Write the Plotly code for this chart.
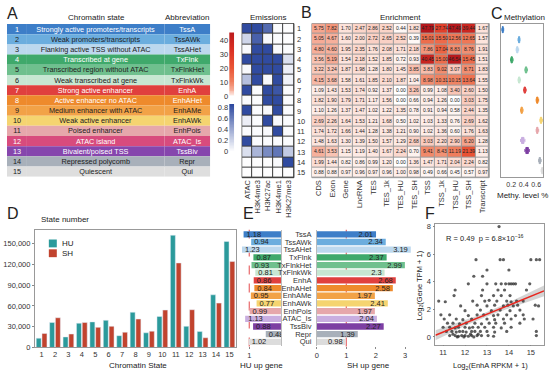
import numpy as np
import plotly.graph_objects as go

W, H = 550, 377
def X(px): return px / W
def Y(py): return 1 - py / H

FONT = "Liberation Sans, Arial, sans-serif"

# ---------------- data ----------------
state_ids = [str(i) for i in range(1, 16)]
state_names = ["Strongly active promoters/transcripts", "Weak promoters/transcripts",
               "Flanking active TSS without ATAC", "Transcribed at gene",
               "Transcribed region without ATAC", "Weak transcribed at gene",
               "Strong active enhancer", "Active enhancer no ATAC", "Medium enhancer with ATAC",
               "Weak active enhancer", "Poised enhancer", "ATAC island",
               "Bivalent/poised TSS", "Repressed polycomb", "Quiescent"]
state_abbr = ["TssA", "TssAWk", "TssAHet", "TxFlnk", "TxFlnkHet", "TxFlnkWk", "EnhA", "EnhAHet",
              "EnhAMe", "EnhAWk", "EnhPois", "ATAC_Is", "TssBiv", "Repr", "Qui"]
table_colors = ["#3d7ec8", "#6badde", "#bcd8ee", "#3fa96b", "#6fc08e", "#c7e7d2", "#e0403e",
                "#ee8a2c", "#f2a247", "#f5d470", "#e6a7ab", "#d84b7d", "#8646ad", "#a8b0ba", "#dedede"]
table_text_colors = ["white", "#222", "#222", "white", "#222", "#222", "white", "white",
                     "#222", "#222", "#222", "white", "white", "#222", "#222"]
state_colors = ["#3d7ec8", "#6badde", "#bcd8ee", "#3fa96b", "#6fc08e", "#c7e7d2", "#e0403e",
                "#ee8a2c", "#f2a247", "#f5d470", "#e6a7ab", "#c9aee0", "#7d3fa3", "#a8b0ba", "#dcdcdc"]

emission_marks = ["ATAC", "H3K4me3", "H3K27ac", "H3K4me1", "H3K27me3"]
emissions = [
    [0.85, 0.85, 0.70, 0.02, 0.01],
    [0.20, 0.75, 0.03, 0.02, 0.01],
    [0.03, 0.85, 0.85, 0.03, 0.02],
    [0.85, 0.85, 0.85, 0.85, 0.15],
    [0.03, 0.85, 0.85, 0.85, 0.08],
    [0.30, 0.85, 0.03, 0.85, 0.06],
    [0.85, 0.02, 0.85, 0.80, 0.02],
    [0.02, 0.02, 0.85, 0.85, 0.02],
    [0.85, 0.02, 0.03, 0.85, 0.02],
    [0.08, 0.02, 0.85, 0.03, 0.02],
    [0.02, 0.02, 0.03, 0.85, 0.02],
    [0.85, 0.02, 0.02, 0.02, 0.02],
    [0.15, 0.35, 0.55, 0.65, 0.25],
    [0.01, 0.01, 0.01, 0.03, 0.85],
    [0.01, 0.01, 0.01, 0.01, 0.01],
]

enrich_features = ["CDS", "Exon", "Gene", "LncRNA", "TES", "TES_1k", "TES_HU", "TES_SH",
                   "TSS", "TSS_1k", "TSS_HU", "TSS_SH", "Transcript"]
enrichment = [
    [5.75, 7.82, 1.70, 2.47, 2.86, 2.52, 0.44, 1.82, 47.79, 27.74, 47.49, 39.44, 1.67],
    [5.05, 4.67, 1.60, 2.00, 2.72, 2.65, 2.52, 0.39, 15.01, 15.50, 12.56, 12.65, 1.57],
    [4.80, 4.60, 1.95, 2.35, 1.76, 2.08, 1.71, 2.18, 7.86, 17.04, 8.83, 8.76, 1.91],
    [3.56, 5.19, 1.54, 2.18, 1.52, 1.85, 0.72, 0.93, 40.45, 15.00, 46.54, 15.45, 1.51],
    [3.22, 3.24, 1.87, 1.98, 1.28, 1.80, 1.45, 3.85, 3.83, 9.02, 3.07, 8.71, 1.83],
    [4.15, 3.68, 1.58, 1.61, 1.85, 2.10, 1.87, 1.04, 8.98, 10.31, 10.15, 13.64, 1.55],
    [1.09, 1.43, 1.53, 1.74, 0.92, 1.37, 0.00, 3.26, 0.99, 1.08, 3.40, 2.60, 1.50],
    [1.82, 1.90, 1.79, 1.71, 1.17, 1.56, 0.00, 0.66, 0.94, 1.26, 0.00, 3.03, 1.75],
    [1.10, 1.26, 1.37, 1.47, 1.02, 1.22, 1.35, 0.78, 0.91, 0.94, 0.58, 2.44, 1.35],
    [2.69, 2.26, 1.64, 1.53, 1.21, 1.68, 0.50, 1.02, 1.03, 1.33, 0.76, 2.69, 1.62],
    [1.74, 1.72, 1.66, 1.44, 1.28, 1.38, 1.21, 0.90, 1.02, 1.36, 0.60, 1.76, 1.63],
    [1.48, 1.63, 1.30, 1.39, 1.50, 1.57, 1.29, 2.68, 3.03, 2.20, 2.90, 6.20, 1.28],
    [4.61, 3.53, 1.15, 1.19, 1.40, 1.67, 2.24, 0.70, 9.41, 8.43, 11.19, 21.39, 1.13],
    [1.99, 1.44, 0.82, 0.86, 0.99, 1.20, 0.00, 1.36, 1.47, 1.71, 2.04, 2.24, 0.82],
    [0.88, 0.88, 0.97, 0.96, 0.97, 0.96, 1.00, 0.98, 0.49, 0.66, 0.45, 0.57, 0.97],
]

methylation = [
    [0.05, 0.06, 0.065, 0.07, 0.08],
    [0.31, 0.32, 0.33, 0.335, 0.34],
    [0.28, 0.29, 0.30, 0.305, 0.32],
    [0.19, 0.20, 0.21, 0.215, 0.23],
    [0.42, 0.43, 0.44, 0.445, 0.46],
    [0.31, 0.32, 0.33, 0.335, 0.35],
    [0.40, 0.41, 0.42, 0.425, 0.44],
    [0.60, 0.61, 0.62, 0.625, 0.64],
    [0.35, 0.36, 0.37, 0.375, 0.39],
    [0.66, 0.67, 0.68, 0.685, 0.70],
    [0.60, 0.61, 0.62, 0.625, 0.64],
    [0.35, 0.37, 0.38, 0.40, 0.42],
    [0.42, 0.44, 0.45, 0.47, 0.49],
    [0.64, 0.65, 0.66, 0.665, 0.68],
    [0.68, 0.69, 0.70, 0.705, 0.72],
]

hu_counts = [13400, 36000, 15200, 35000, 36900, 39200, 17000, 50800, 21200, 44800,
             162000, 30500, 23000, 76000, 153000]
sh_counts = [20300, 42900, 19400, 36000, 29000, 30500, 22000, 41000, 23500, 54000,
             122000, 54500, 14000, 64000, 124000]

hu_up = [1.18, 0.94, 1.23, 0.87, 0.93, 0.81, 0.86, 0.84, 0.95, 0.77, 0.99, 1.13, 0.88, 0.48, 1.02]
sh_up = [2.01, 2.34, 3.19, 2.37, 2.99, 2.3, 2.68, 2.58, 1.97, 2.41, 1.97, 2.04, 2.27, 1.39, 0.98]

f_enha = [13.55,
          12.5, 13.6, 13.75, 15.0, 15.25, 15.4,
          13.0, 14.0,
          12.4, 12.8,
          12.15, 13.0, 13.4, 13.65, 13.85, 14.0, 14.1, 14.2, 14.3, 14.95,
          11.55, 12.8, 13.5, 13.8, 14.8,
          11.5, 12.75, 13.3, 13.65, 14.05,
          10.8, 11.1, 12.35, 12.9, 13.1, 13.45, 13.9, 14.1, 14.35, 14.65,
          11.8, 12.55, 13.0, 13.35, 13.75, 13.95, 14.2, 14.4, 15.2, 15.35,
          12.0, 12.7, 13.2, 13.6, 14.05, 14.5,
          10.9, 11.3, 12.15, 12.55, 12.85, 13.3, 13.5, 13.9, 14.3, 14.65,
          11.05, 11.6, 11.9, 12.3, 13.0, 13.35, 13.75, 14.1, 14.7, 15.1,
          11.2, 11.45, 11.75, 12.05, 12.45, 12.75, 13.1, 13.4, 13.8, 14.5,
          11.0, 11.3, 11.55, 11.7, 12.0, 12.2, 12.35, 12.6, 12.9, 13.3, 13.65, 14.1,
          11.15, 11.4, 11.6, 11.75, 11.9, 12.05, 12.3, 12.45, 12.7, 13.0, 13.35, 13.9, 15.25,
          11.3, 11.55, 11.7, 11.85, 12.0, 12.15, 12.3, 12.55, 12.75, 13.05, 13.3, 15.25,
          11.65, 11.95, 12.4, 11.45, 12.25, 12.6]
f_gene = [8.0,
          5.6, 5.6, 5.6, 5.6, 5.6, 5.6,
          4.85, 4.85,
          4.4, 4.4,
          3.85, 3.85, 3.85, 3.85, 3.85, 3.85, 3.85, 3.85, 3.85, 3.85,
          3.4, 3.4, 3.4, 3.4, 3.4,
          3.0, 3.0, 3.0, 3.0, 3.0,
          2.6, 2.55, 2.6, 2.6, 2.65, 2.6, 2.6, 2.55, 2.6, 2.6,
          2.25, 2.3, 2.25, 2.3, 2.25, 2.3, 2.25, 2.3, 2.3, 2.25,
          1.9, 1.95, 1.9, 1.95, 1.9, 1.95,
          1.6, 1.6, 1.55, 1.6, 1.6, 1.55, 1.6, 1.6, 1.55, 1.6,
          1.3, 1.3, 1.25, 1.3, 1.3, 1.25, 1.3, 1.3, 1.3, 1.3,
          1.0, 1.0, 0.95, 1.0, 1.0, 0.95, 1.0, 1.0, 1.0, 1.0,
          0.7, 0.7, 0.65, 0.7, 0.7, 0.65, 0.7, 0.7, 0.7, 0.7, 0.65, 0.7,
          0.4, 0.4, 0.35, 0.4, 0.4, 0.35, 0.4, 0.4, 0.4, 0.4, 0.35, 0.4, 0.4,
          0.1, 0.1, 0.05, 0.1, 0.1, 0.05, 0.1, 0.1, 0.1, 0.1, 0.05, 0.1,
          0.0, 0.0, 0.0, 0.2, 0.2, 0.2]
fit_slope = 0.65
fit_intercept = -6.8
fit_r_text = "R = 0.49  p = 6.8×10<sup>−16</sup>"

red_scale = [[0, "#ffffff"], [0.03, "#fde6df"], [0.1, "#f6ad98"], [0.22, "#f0805f"],
             [0.42, "#ea5636"], [0.68, "#dc3224"], [1, "#b5161b"]]
blue_scale = [[0, "#ffffff"], [1, "#2b479e"]]

fig = go.Figure()

# ---------------- A: table as stacked bars ----------------
col_w = [20, 138, 46]
col_text = [state_ids, state_names, state_abbr]
base = 0
for w, txt in zip(col_w, col_text):
    fig.add_trace(go.Bar(
        y=state_ids, x=[w] * len(state_ids), base=base, orientation="h", width=1.0,
        marker=dict(color=table_colors, line=dict(width=0)),
        text=txt, textposition="inside", insidetextanchor="middle", constraintext="none",
        textangle=0,
        textfont=dict(size=7.3, color=table_text_colors, family=FONT),
        xaxis="x10", yaxis="y10", showlegend=False, hoverinfo="skip"))
    base += w

# ---------------- emissions heatmap ----------------
fig.add_trace(go.Heatmap(z=emissions, x=emission_marks, y=state_ids, colorscale=blue_scale,
                         zmin=0, zmax=0.87, showscale=False, xgap=1, ygap=1,
                         xaxis="x", yaxis="y", hoverinfo="skip"))

# ---------------- B: enrichment heatmap ----------------
enrich_text = [[f"{v:.2f}" for v in row] for row in enrichment]
fig.add_trace(go.Heatmap(z=enrichment, x=enrich_features, y=state_ids, colorscale=red_scale,
                         zmin=0, zmax=48, showscale=False, xgap=1, ygap=1,
                         text=enrich_text, texttemplate="%{text}",
                         textfont=dict(size=5, color="#222", family=FONT),
                         xaxis="x2", yaxis="y2", hoverinfo="skip"))

# colour bars (gradients on their own axes)
red_grad = np.linspace(0, 45.6, 80)
fig.add_trace(go.Heatmap(z=[[v] for v in red_grad], y=red_grad, x=[0], colorscale=red_scale,
                         zmin=0, zmax=48, showscale=False, xaxis="x8", yaxis="y8", hoverinfo="skip"))
blue_grad = np.linspace(0, 0.87, 80)
fig.add_trace(go.Heatmap(z=[[v] for v in blue_grad], y=blue_grad, x=[0], colorscale=blue_scale,
                         zmin=0, zmax=0.87, showscale=False, xaxis="x9", yaxis="y9", hoverinfo="skip"))

# ---------------- C: methylation ----------------
for sid, vals, col in zip(state_ids, methylation, state_colors):
    fig.add_trace(go.Box(x=vals, y=[sid] * len(vals), orientation="h", width=0.6,
                         line=dict(color=col, width=1), fillcolor=col,
                         boxpoints=False,
                         xaxis="x3", yaxis="y3", showlegend=False, hoverinfo="skip"))

# ---------------- D: state numbers ----------------
hu_color, sh_color = "#2b9a9b", "#c1432e"
fig.add_trace(go.Bar(x=state_ids, y=hu_counts, name="HU", marker_color=hu_color,
                     offset=-0.4, width=0.37, xaxis="x4", yaxis="y4", showlegend=False))
fig.add_trace(go.Bar(x=state_ids, y=sh_counts, name="SH", marker_color=sh_color,
                     offset=0.03, width=0.37, xaxis="x4", yaxis="y4", showlegend=False))

# ---------------- E: up genes ----------------
fig.add_trace(go.Bar(y=state_abbr, x=hu_up, orientation="h", width=0.82,
                     marker=dict(color=state_colors, line=dict(width=0)),
                     text=[f"{v:g}" for v in hu_up], textposition="inside",
                     insidetextanchor="end", constraintext="none", textangle=0,
                     textfont=dict(size=7.5, color="#222", family=FONT),
                     xaxis="x5", yaxis="y5", showlegend=False, hoverinfo="skip"))
fig.add_trace(go.Bar(y=state_abbr, x=sh_up, orientation="h", width=0.82,
                     marker=dict(color=state_colors, line=dict(width=0)),
                     text=[f"{v:g}" for v in sh_up], textposition="inside",
                     insidetextanchor="end", constraintext="none", textangle=0,
                     textfont=dict(size=7.5, color="#222", family=FONT),
                     xaxis="x6", yaxis="y6", showlegend=False, hoverinfo="skip"))

# ---------------- F: scatter + fit ----------------
fx = np.array(f_enha, dtype=float)
fy = np.array(f_gene, dtype=float)
xs = np.linspace(10.65, 15.6, 60)
ys = fit_slope * xs + fit_intercept
resid = fy - (fit_slope * fx + fit_intercept)
s = np.sqrt(np.sum(resid ** 2) / (len(fx) - 2))
sxx = np.sum((fx - fx.mean()) ** 2)
hw = 1.2 * s * np.sqrt(1 / len(fx) + (xs - fx.mean()) ** 2 / sxx)
fig.add_trace(go.Scatter(x=np.concatenate([xs, xs[::-1]]),
                         y=np.concatenate([ys + hw, (ys - hw)[::-1]]),
                         fill="toself", fillcolor="rgba(170,170,170,0.5)",
                         line=dict(width=0), xaxis="x7", yaxis="y7",
                         showlegend=False, hoverinfo="skip"))
fig.add_trace(go.Scatter(x=fx, y=fy, mode="markers",
                         marker=dict(size=3.2, color="rgba(40,40,40,0.75)"),
                         xaxis="x7", yaxis="y7", showlegend=False, hoverinfo="skip"))
fig.add_trace(go.Scatter(x=xs, y=ys, mode="lines", line=dict(color="#e8261e", width=1.5),
                         xaxis="x7", yaxis="y7", showlegend=False, hoverinfo="skip"))

# ---------------- layout ----------------
tick_font = dict(size=7.5, color="#333", family=FONT)
hidden = dict(visible=False)
BOT = 352  # bottom of lower panels
layout = dict(
    width=W, height=H, margin=dict(l=0, r=0, t=0, b=0),
    paper_bgcolor="white", plot_bgcolor="white",
    font=dict(family=FONT, size=8, color="#222"),
    barmode="overlay",
    showlegend=False,
    # emissions
    xaxis=dict(domain=[X(241), X(293)], tickangle=-90, tickfont=tick_font, ticks="",
               showgrid=False, zeroline=False, side="bottom", anchor="y"),
    yaxis=dict(domain=[Y(179), Y(22)], autorange="reversed", side="right", tickfont=tick_font,
               ticks="", showgrid=False, zeroline=False, anchor="x", ticklabelstandoff=2),
    # enrichment
    xaxis2=dict(domain=[X(311), X(489)], tickangle=-90, tickfont=tick_font, ticks="",
                showgrid=False, zeroline=False, anchor="y2"),
    yaxis2=dict(domain=[Y(179), Y(22)], autorange="reversed", showticklabels=False, ticks="",
                showgrid=False, zeroline=False, anchor="x2"),
    # methylation
    xaxis3=dict(domain=[X(501), X(543)], range=[0.04, 0.71], tickvals=[0.2, 0.4, 0.6],
                tickfont=dict(size=7, color="#333", family=FONT), ticks="",
                ticklabelstandoff=1,
                showline=True, mirror=True, linecolor="#999", linewidth=0.8,
                showgrid=False, zeroline=False, anchor="y3"),
    yaxis3=dict(domain=[Y(178), Y(22)], categoryorder="array", categoryarray=state_ids,
                range=[14.6, -0.6], showticklabels=False, ticks="", showline=True, mirror=True,
                linecolor="#999", linewidth=0.8, showgrid=False, zeroline=False, anchor="x3"),
    # D
    xaxis4=dict(domain=[X(33), X(235)], range=[-0.5, 14.5], tickfont=tick_font, ticks="",
                showline=True, mirror=True, linecolor="#999", linewidth=0.8,
                showgrid=False, zeroline=False, anchor="y4"),
    yaxis4=dict(domain=[Y(BOT), Y(232)], range=[0, 170000],
                tickvals=[0, 30000, 60000, 90000, 120000, 150000], tickformat=",",
                tickfont=tick_font, ticks="outside", ticklen=2, tickcolor="#888",
                showline=True, mirror=True, linecolor="#999", linewidth=0.8,
                showgrid=False, zeroline=False, anchor="x4"),
    # E HU
    xaxis5=dict(domain=[X(238), X(280)], range=[1.32, 0], tickvals=[1], tickfont=tick_font,
                ticks="outside", ticklen=2, tickcolor="#888", showline=False,
                showgrid=False, zeroline=False, anchor="y5"),
    yaxis5=dict(domain=[Y(BOT - 1), Y(232)], range=[14.6, -0.6], showticklabels=False,
                ticks="", showline=True, linecolor="#bbb", linewidth=0.8, side="right",
                showgrid=False, zeroline=False, anchor="x5"),
    # E SH
    xaxis6=dict(domain=[X(316), X(415)], range=[0, 3.35], tickvals=[0, 1, 2, 3],
                tickfont=tick_font, ticks="outside", ticklen=2, tickcolor="#888",
                showgrid=False, zeroline=False, anchor="y6"),
    yaxis6=dict(domain=[Y(BOT - 1), Y(232)], range=[14.6, -0.6], tickfont=tick_font, ticks="",
                tickmode="array", tickvals=state_abbr,
                showline=True, linecolor="#bbb", linewidth=0.8, ticklabelstandoff=3,
                showgrid=False, zeroline=False, anchor="x6"),
    # F
    xaxis7=dict(domain=[X(435), X(544)], range=[10.65, 15.6], tickvals=[11, 12, 13, 14, 15],
                tickfont=tick_font, ticks="outside", ticklen=1, tickcolor="#888",
                showline=True, mirror=True, linecolor="#999", linewidth=0.8,
                showgrid=False, zeroline=False, anchor="y7"),
    yaxis7=dict(domain=[Y(BOT - 3), Y(226)], range=[-0.55, 8.2], tickvals=[0, 2, 4, 6, 8],
                tickfont=tick_font, ticks="outside", ticklen=2, tickcolor="#888",
                showline=True, mirror=True, linecolor="#999", linewidth=0.8,
                showgrid=False, zeroline=False, anchor="x7"),
    # colour bars
    xaxis8=dict(domain=[X(228), X(233)], **hidden, anchor="y8"),
    yaxis8=dict(domain=[Y(96), Y(31)], range=[0, 45.6], tickvals=[0, 10, 20, 30, 40],
                tickfont=tick_font, ticks="", showgrid=False, zeroline=False, anchor="x8"),
    xaxis9=dict(domain=[X(228), X(233)], **hidden, anchor="y9"),
    yaxis9=dict(domain=[Y(152), Y(104)], range=[0, 0.87], tickvals=[0, 0.2, 0.4, 0.6, 0.8],
                ticktext=["0", "0.2", "0.4", "0.6", "0.8"],
                tickfont=tick_font, ticks="", showgrid=False, zeroline=False, anchor="x9"),
    # table
    xaxis10=dict(domain=[X(5), X(209)], range=[0, sum(col_w)], **hidden, anchor="y10"),
    yaxis10=dict(domain=[Y(178), Y(22.5)], range=[14.5, -0.5], **hidden, anchor="x10"),
)
fig.update_layout(**layout)

# grid backgrounds for heatmaps
fig.add_shape(type="rect", xref="x domain", yref="y domain", x0=0, x1=1, y0=0, y1=1,
              fillcolor="#3a3a3a", line=dict(color="#3a3a3a", width=1), layer="below")
fig.add_shape(type="rect", xref="x2 domain", yref="y2 domain", x0=0, x1=1, y0=0, y1=1,
              fillcolor="#9a9a9a", line=dict(color="#9a9a9a", width=1), layer="below")
# reference lines at 1 in E
for xa, ya in (("x5", "y5"), ("x6", "y6")):
    fig.add_shape(type="line", xref=xa, yref=ya + " domain", x0=1, x1=1, y0=0, y1=1,
                  line=dict(color="#e8686a", width=1.2, dash="dash"), layer="below")

def ann(text, px, py, size=8, xanchor="center", **kw):
    fig.add_annotation(text=text, x=X(px), y=Y(py), xref="paper", yref="paper",
                       xanchor=xanchor, yanchor="middle", showarrow=False,
                       font=dict(size=size, family=FONT, color="#222"), **kw)

# legend for D (swatches + labels)
for name, col, py in (("HU", hu_color, 246), ("SH", sh_color, 256)):
    fig.add_shape(type="rect", xref="paper", yref="paper", x0=X(47), x1=X(55),
                  y0=Y(py + 4), y1=Y(py - 4), fillcolor=col, line=dict(width=0))
    ann(name, 58, py, xanchor="left")

ann("A", 11, 12, size=16)
ann("B", 306, 11, size=16)
ann("C", 497, 12, size=16)
ann("D", 11, 215, size=16)
ann("E", 247, 215, size=16)
ann("F", 430, 215, size=16)
ann("Chromatin state", 95, 16)
ann("Abbreviation", 186, 16)
ann("Emissions", 267, 16)
ann("Enrichment", 400, 16)
ann("Methylation", 524, 16)
ann("Methy. level %", 522, 197)
ann("State number", 63, 222)
ann("Chromatin State", 136, 370)
ann("HU up gene", 260, 370)
ann("SH up gene", 368, 370)
ann("Log<sub>2</sub>(EnhA RPKM + 1)", 490, 370.5, size=7.5)
ann("Log<sub>2</sub>(Gene TPM + 1)", 419, 288, size=7.5, textangle=-90)
ann(fit_r_text, 444, 240, size=7.5, xanchor="left")

fig.write_html("out.html", config={"displayModeBar": False},
               post_script="document.body.style.margin='0';document.body.style.padding='0';")
